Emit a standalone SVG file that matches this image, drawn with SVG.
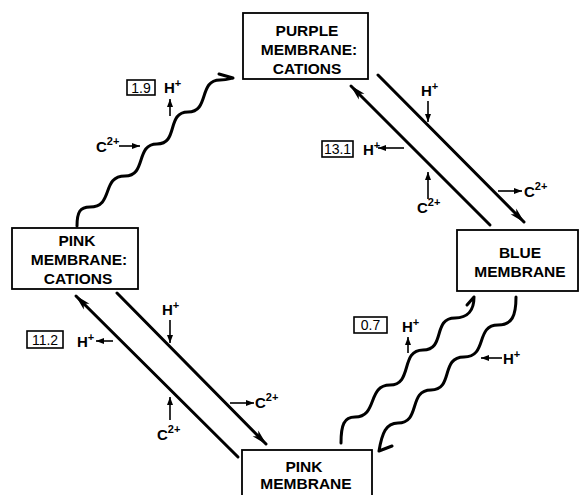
<svg xmlns="http://www.w3.org/2000/svg" width="580" height="495" viewBox="0 0 580 495">
<defs>
<style>
.box{fill:#fff;stroke:#000;stroke-width:1.8}
.bt{font-family:"Liberation Sans",Arial,sans-serif;font-weight:bold;font-size:15.5px;text-anchor:middle;fill:#000}
.lb{font-family:"Liberation Sans",Arial,sans-serif;font-weight:bold;font-size:15px;fill:#000}
.sup{font-size:11px}
.num{font-family:"Liberation Sans",Arial,sans-serif;font-size:14px;text-anchor:middle;fill:#000}
.nbox{fill:none;stroke:#000;stroke-width:1.6}
.thick{fill:none;stroke:#000;stroke-width:3;stroke-linecap:round}
.wave{fill:none;stroke:#000;stroke-width:3;stroke-linecap:round;stroke-linejoin:round}
.small{fill:none;stroke:#000;stroke-width:1.6}
</style>
<marker id="big" markerUnits="userSpaceOnUse" markerWidth="16" markerHeight="10" refX="15" refY="5" orient="auto">
<path d="M0,1 L16,5 L0,9 L4,5 z" fill="#000"/>
</marker>
<marker id="sm" markerUnits="userSpaceOnUse" markerWidth="8" markerHeight="6" refX="8" refY="3" orient="auto">
<path d="M0,0 L8,3 L0,6 z" fill="#000"/>
</marker>
</defs>
<rect width="580" height="495" fill="#fff"/>

<g id="purple">
<rect class="box" x="243" y="13" width="125" height="66"/>
<text class="bt" x="307" y="36">PURPLE</text>
<text class="bt" x="309" y="55">MEMBRANE:</text>
<text class="bt" x="307" y="74">CATIONS</text>
</g>
<g id="pinkcat">
<rect class="box" x="12" y="228" width="126" height="61"/>
<text class="bt" x="77" y="246">PINK</text>
<text class="bt" x="79" y="265">MEMBRANE:</text>
<text class="bt" x="78" y="284">CATIONS</text>
</g>
<g id="blue">
<rect class="box" x="457" y="230" width="121" height="61"/>
<text class="bt" x="520" y="258">BLUE</text>
<text class="bt" x="520" y="277">MEMBRANE</text>
</g>
<g id="pink">
<rect class="box" x="242" y="450" width="130" height="55"/>
<text class="bt" x="304" y="472">PINK</text>
<text class="bt" x="306" y="489">MEMBRANE</text>
</g>

<g id="connectors">
<line class="thick" x1="490" y1="225" x2="351" y2="86" marker-end="url(#big)"/>
<line class="thick" x1="378" y1="75" x2="524" y2="222" marker-end="url(#big)"/>
<line class="thick" x1="238" y1="457" x2="76" y2="296" marker-end="url(#big)"/>
<line class="thick" x1="117" y1="293" x2="266" y2="444" marker-end="url(#big)"/>

<path class="wave" d="M77,226 C77,212 80,207 90,207 C114,207 101,176 125,176 C147,176 135,144 157,144 C179,144 166,112 188,112 C210,112 198,80 220,80 C226,80 229,79 233,78 M219,74 L233,78"/>
<path class="wave" d="M341,443 C341,425 344,417 355,417 C378,417 367,385 390,385 C413,385 400,350 423,350 C446,350 432,318 455,318 C468,318 474,310 474,297 M467,305 L474,297"/>
<path class="wave" d="M516,297 C516,316 512,325 498,325 C475,325 488,357 464,357 C440,357 454,390 431,390 C408,390 421,423 398,423 C386,423 382,433 379,451 L392,446"/>
</g>

<g id="labels">
<rect class="nbox" x="127" y="80" width="28" height="15"/>
<text class="num" x="141" y="93">1.9</text>
<text class="lb" x="164" y="93">H<tspan class="sup" dy="-6">+</tspan></text>
<line class="small" x1="170" y1="116" x2="170" y2="99" marker-end="url(#sm)"/>
<text class="lb" x="96" y="152">C<tspan class="sup" dy="-7">2+</tspan></text>
<line class="small" x1="119" y1="146" x2="140" y2="146" marker-end="url(#sm)"/>

<text class="lb" x="421" y="96">H<tspan class="sup" dy="-6">+</tspan></text>
<line class="small" x1="428" y1="101" x2="428" y2="122" marker-end="url(#sm)"/>
<rect class="nbox" x="322" y="141" width="31" height="16"/>
<text class="num" x="337.5" y="154">13.1</text>
<text class="lb" x="363" y="155">H<tspan class="sup" dy="-6">+</tspan></text>
<line class="small" x1="404" y1="148" x2="378" y2="148" marker-end="url(#sm)"/>
<line class="small" x1="428" y1="199" x2="428" y2="172" marker-end="url(#sm)"/>
<text class="lb" x="417" y="213">C<tspan class="sup" dy="-7">2+</tspan></text>
<line class="small" x1="498" y1="191" x2="522" y2="191" marker-end="url(#sm)"/>
<text class="lb" x="524" y="197">C<tspan class="sup" dy="-7">2+</tspan></text>

<text class="lb" x="162" y="315">H<tspan class="sup" dy="-6">+</tspan></text>
<line class="small" x1="170" y1="320" x2="170" y2="343" marker-end="url(#sm)"/>
<rect class="nbox" x="27" y="331" width="36" height="17"/>
<text class="num" x="45" y="345">11.2</text>
<text class="lb" x="77" y="347">H<tspan class="sup" dy="-6">+</tspan></text>
<line class="small" x1="113" y1="341" x2="96" y2="341" marker-end="url(#sm)"/>
<line class="small" x1="230" y1="403" x2="254" y2="403" marker-end="url(#sm)"/>
<text class="lb" x="255" y="408">C<tspan class="sup" dy="-7">2+</tspan></text>
<line class="small" x1="170" y1="420" x2="170" y2="397" marker-end="url(#sm)"/>
<text class="lb" x="157" y="440">C<tspan class="sup" dy="-7">2+</tspan></text>

<rect class="nbox" x="354" y="317" width="33" height="16"/>
<text class="num" x="370.5" y="330">0.7</text>
<text class="lb" x="402" y="332">H<tspan class="sup" dy="-6">+</tspan></text>
<line class="small" x1="408" y1="353" x2="408" y2="337" marker-end="url(#sm)"/>
<line class="small" x1="502" y1="358" x2="481" y2="358" marker-end="url(#sm)"/>
<text class="lb" x="503" y="364">H<tspan class="sup" dy="-6">+</tspan></text>
</g>
</svg>
